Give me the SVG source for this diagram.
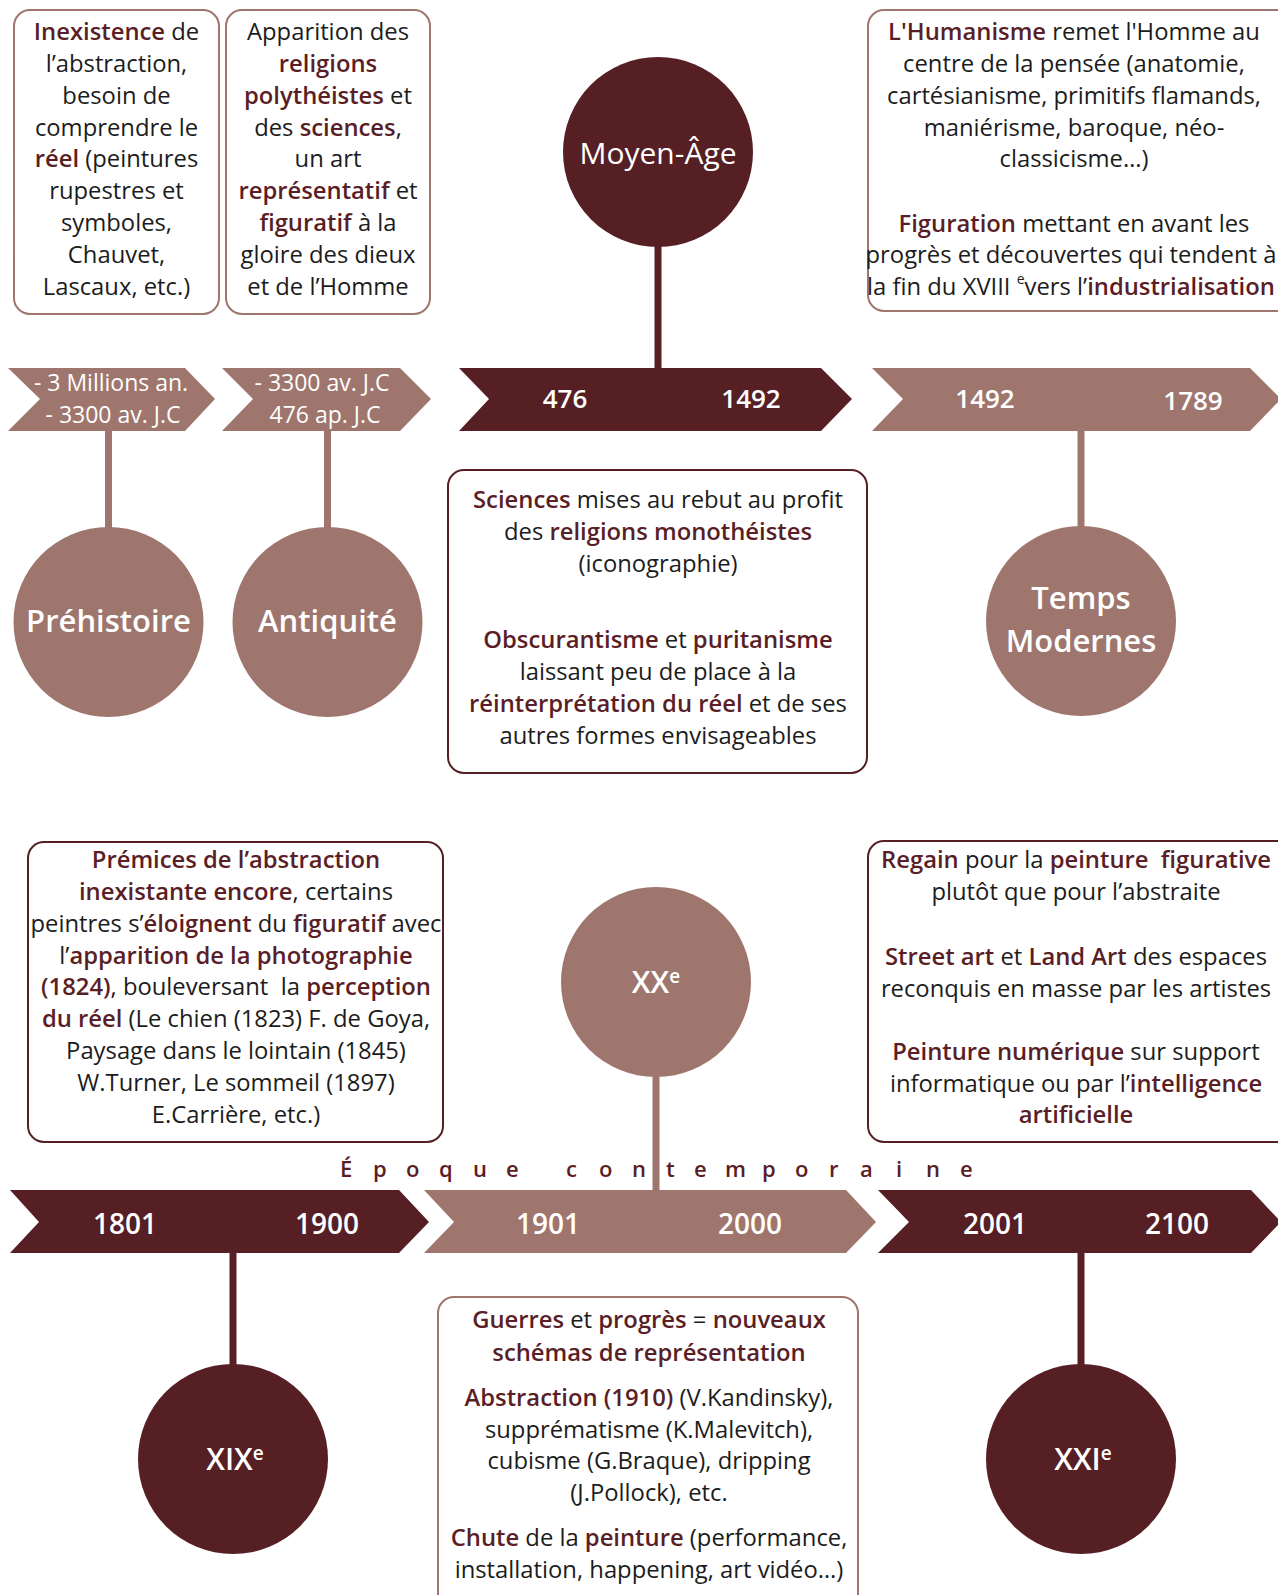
<svg xmlns="http://www.w3.org/2000/svg" width="1278" height="1595" viewBox="0 0 1278 1595">
<style>
.t{font-family:"Open Sans","Noto Sans",sans-serif;font-size:23.8px;fill:#1c1c1c;text-anchor:middle}
.h{font-weight:600;fill:#5a1e26}
.bl{fill:#fff;stroke:#9e766d;stroke-width:2}
.bd{fill:#fff;stroke:#561f24;stroke-width:2}
.dk{fill:#561f24}
.lt{fill:#9e766d}
.w{font-family:"Open Sans","Noto Sans",sans-serif;fill:#fff;text-anchor:middle}
.ch{font-size:23px}
.num{font-size:26px;font-weight:600}
.num2{font-size:28px;font-weight:600}
.cl{font-size:31px;font-weight:600}
.sd{stroke:#561f24;stroke-width:7;fill:none}
.sl{stroke:#9e766d;stroke-width:7;fill:none}
.ep{font-family:"Open Sans","Noto Sans",sans-serif;font-size:22px;font-weight:600;fill:#5a1e26}
</style>

<!-- Text boxes -->
<g id="box-prehistoire">
<rect class="bl" x="14" y="10" width="205" height="304" rx="16"/>
<text class="t"><tspan x="116.5" y="40"><tspan class="h">Inexistence</tspan> de</tspan><tspan x="116.5" y="72">l’abstraction,</tspan><tspan x="116.5" y="104">besoin de</tspan><tspan x="116.5" y="136">comprendre le</tspan><tspan x="116.5" y="167"><tspan class="h">réel</tspan> (peintures</tspan><tspan x="116.5" y="199">rupestres et</tspan><tspan x="116.5" y="231">symboles,</tspan><tspan x="116.5" y="263">Chauvet,</tspan><tspan x="116.5" y="295">Lascaux, etc.)</tspan></text>
</g>
<g id="box-antiquite">
<rect class="bl" x="226" y="10" width="204" height="304" rx="16"/>
<text class="t"><tspan x="328" y="40">Apparition des</tspan><tspan x="328" y="72" class="h">religions</tspan><tspan x="328" y="104"><tspan class="h">polythéistes</tspan> et</tspan><tspan x="328" y="136">des <tspan class="h">sciences</tspan>,</tspan><tspan x="328" y="167">un art</tspan><tspan x="328" y="199"><tspan class="h">représentatif</tspan> et</tspan><tspan x="328" y="231"><tspan class="h">figuratif</tspan> à la</tspan><tspan x="328" y="263">gloire des dieux</tspan><tspan x="328" y="295">et de l’Homme</tspan></text>
</g>
<g id="box-temps-modernes">
<rect class="bl" x="868" y="10" width="430" height="301" rx="16"/>
<text class="t"><tspan x="1074" y="40"><tspan class="h">L'Humanisme</tspan> remet l'Homme au</tspan><tspan x="1074" y="72">centre de la pensée (anatomie,</tspan><tspan x="1074" y="104">cartésianisme, primitifs flamands,</tspan><tspan x="1074" y="136">maniérisme, baroque, néo-</tspan><tspan x="1074" y="167">classicisme…)</tspan><tspan x="1074" y="232"><tspan class="h">Figuration</tspan> mettant en avant les</tspan><tspan x="1071" y="263">progrès et découvertes qui tendent à</tspan><tspan x="1071" y="295">la fin du XVIII <tspan font-size="14" dy="-11">e</tspan><tspan dy="11">vers l’</tspan><tspan class="h">industrialisation</tspan></tspan></text>
</g>
<g id="box-moyen-age">
<rect class="bd" x="448" y="470" width="419" height="303" rx="16"/>
<text class="t"><tspan x="658" y="508"><tspan class="h">Sciences</tspan> mises au rebut au profit</tspan><tspan x="658" y="540">des <tspan class="h">religions monothéistes</tspan></tspan><tspan x="658" y="572">(iconographie)</tspan><tspan x="658" y="648"><tspan class="h">Obscurantisme</tspan> et <tspan class="h">puritanisme</tspan></tspan><tspan x="658" y="680">laissant peu de place à la</tspan><tspan x="658" y="712"><tspan class="h">réinterprétation du réel</tspan> et de ses</tspan><tspan x="658" y="744">autres formes envisageables</tspan></text>
</g>
<g id="box-xix">
<rect class="bd" x="28" y="842" width="415" height="300" rx="16"/>
<text class="t" xml:space="preserve"><tspan x="236" y="868" class="h">Prémices de l’abstraction</tspan><tspan x="236" y="900"><tspan class="h">inexistante encore</tspan>, certains</tspan><tspan x="236" y="932">peintres s’<tspan class="h">éloignent</tspan> du <tspan class="h">figuratif</tspan> avec</tspan><tspan x="236" y="964">l’<tspan class="h">apparition de la photographie</tspan></tspan><tspan x="236" y="995"><tspan class="h">(1824)</tspan>, bouleversant  la <tspan class="h">perception</tspan></tspan><tspan x="236" y="1027"><tspan class="h">du réel</tspan> (Le chien (1823) F. de Goya,</tspan><tspan x="236" y="1059">Paysage dans le lointain (1845)</tspan><tspan x="236" y="1091">W.Turner, Le sommeil (1897)</tspan><tspan x="236" y="1123">E.Carrière, etc.)</tspan></text>
</g>
<g id="box-xxi">
<rect class="bd" x="868" y="841" width="430" height="301" rx="16"/>
<text class="t" xml:space="preserve"><tspan x="1076" y="868"><tspan class="h">Regain</tspan> pour la <tspan class="h">peinture  figurative</tspan></tspan><tspan x="1076" y="900">plutôt que pour l’abstraite</tspan><tspan x="1076" y="965"><tspan class="h">Street art</tspan> et <tspan class="h">Land Art</tspan> des espaces</tspan><tspan x="1076" y="997">reconquis en masse par les artistes</tspan><tspan x="1076" y="1060"><tspan class="h">Peinture numérique</tspan> sur support</tspan><tspan x="1076" y="1092">informatique ou par l’<tspan class="h">intelligence</tspan></tspan><tspan x="1076" y="1123" class="h">artificielle</tspan></text>
</g>
<g id="box-xx">
<rect class="bl" x="438" y="1297" width="420" height="330" rx="16"/>
<text class="t"><tspan x="649" y="1328"><tspan class="h">Guerres</tspan> et <tspan class="h">progrès</tspan> = <tspan class="h">nouveaux</tspan></tspan><tspan x="649" y="1361" class="h">schémas de représentation</tspan><tspan x="649" y="1406"><tspan class="h">Abstraction (1910)</tspan> (V.Kandinsky),</tspan><tspan x="649" y="1438">supprématisme (K.Malevitch),</tspan><tspan x="649" y="1469">cubisme (G.Braque), dripping</tspan><tspan x="649" y="1501">(J.Pollock), etc.</tspan><tspan x="649" y="1546"><tspan class="h">Chute</tspan> de la <tspan class="h">peinture</tspan> (performance,</tspan><tspan x="649" y="1578">installation, happening, art vidéo…)</tspan></text>
</g>

<!-- Timeline chevrons -->
<g id="chev-prehistoire">
<polygon class="lt" points="8,368 185,368 215,399 185,431 8,431 40,399"/>
<text class="w ch"><tspan x="111" y="391">- 3 Millions an.</tspan><tspan x="113" y="423">- 3300 av. J.C</tspan></text>
</g>
<g id="chev-antiquite">
<polygon class="lt" points="222,368 400,368 431,399 400,431 222,431 253,399"/>
<text class="w ch"><tspan x="322" y="391">- 3300 av. J.C</tspan><tspan x="325" y="423">476 ap. J.C</tspan></text>
</g>
<g id="chev-moyen-age">
<polygon class="dk" points="459,368 821,368 852,399 821,431 459,431 489,399"/>
<text class="w num" x="565" y="408">476</text>
<text class="w num" x="751" y="408">1492</text>
</g>
<g id="chev-temps-modernes">
<polygon class="lt" points="872,368 1250,368 1281,399 1250,431 872,431 903,399"/>
<text class="w num" x="985" y="408">1492</text>
<text class="w num" x="1193" y="410">1789</text>
</g>
<g id="chev-xix">
<polygon class="dk" points="10,1190 399,1190 429,1222 399,1253 10,1253 39,1222"/>
<text class="w num2" x="125" y="1234">1801</text>
<text class="w num2" x="327" y="1234">1900</text>
</g>
<g id="chev-xx">
<polygon class="lt" points="424,1190 846,1190 876,1222 846,1253 424,1253 454,1222"/>
<text class="w num2" x="548" y="1234">1901</text>
<text class="w num2" x="750" y="1234">2000</text>
</g>
<g id="chev-xxi">
<polygon class="dk" points="878,1190 1251,1190 1281,1222 1251,1253 878,1253 909,1222"/>
<text class="w num2" x="995" y="1234">2001</text>
<text class="w num2" x="1177" y="1234">2100</text>
</g>

<text id="label-epoque" class="ep" x="340 373 406 439 473 506 539 566 599 632 666 694 725 762 795 829 860 896 926 960" y="1177">Époque contemporaine</text>

<!-- Connectors -->
<g id="connectors">
<line class="sl" x1="108.5" y1="431" x2="108.5" y2="530"/>
<line class="sl" x1="327.5" y1="431" x2="327.5" y2="530"/>
<line class="sd" x1="658" y1="245" x2="658" y2="368"/>
<line class="sl" x1="1081" y1="431" x2="1081" y2="529"/>
<line class="sl" x1="656" y1="1074" x2="656" y2="1190"/>
<line class="sd" x1="233" y1="1253" x2="233" y2="1366"/>
<line class="sd" x1="1081" y1="1253" x2="1081" y2="1366"/>
</g>

<!-- Period circles -->
<g id="prehistoire">
<circle class="lt" cx="108.5" cy="622" r="95"/>
<text class="w cl" x="108.5" y="632">Préhistoire</text>
</g>
<g id="antiquite">
<circle class="lt" cx="327.5" cy="622" r="95"/>
<text class="w cl" x="327.5" y="632">Antiquité</text>
</g>
<g id="moyen-age">
<circle class="dk" cx="658" cy="152" r="95"/>
<text class="w" font-size="30" x="658" y="164">Moyen-Âge</text>
</g>
<g id="temps-modernes">
<circle class="lt" cx="1081" cy="621" r="95"/>
<text class="w cl" font-size="30"><tspan x="1081" y="609">Temps</tspan><tspan x="1081" y="652">Modernes</tspan></text>
</g>
<g id="xx">
<circle class="lt" cx="656" cy="982" r="95"/>
<text class="w" font-size="30" font-weight="600" x="656" y="993">XX<tspan font-size="19" dy="-10">e</tspan></text>
</g>
<g id="xix">
<circle class="dk" cx="233" cy="1459" r="95"/>
<text class="w" font-size="30" font-weight="600" x="235" y="1470">XIX<tspan font-size="19" dy="-10">e</tspan></text>
</g>
<g id="xxi">
<circle class="dk" cx="1081" cy="1459" r="95"/>
<text class="w" font-size="30" font-weight="600" x="1083" y="1470">XXI<tspan font-size="19" dy="-10">e</tspan></text>
</g>
</svg>
